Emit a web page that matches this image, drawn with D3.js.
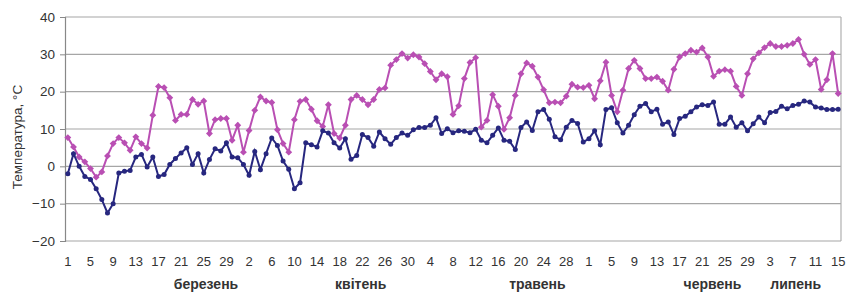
<!DOCTYPE html>
<html>
<head>
<meta charset="utf-8">
<script src="https://cdn.jsdelivr.net/npm/d3@7"></script>
<style>
  html, body { margin: 0; padding: 0; background: #fff; }
  svg { display: block; font-family: "Liberation Sans", Arial, sans-serif; }
</style>
</head>
<body>
<svg id="chart" width="847" height="297"></svg>
<script>
// Day-of-month labels for each of the 137 days (1 March – 15 July)
const monthNames = ["березень", "квітень", "травень", "червень", "липень"];
const monthLengths = [31, 30, 31, 30, 15];
// Category index (fractional) under which each month name is printed
const monthLabelAnchor = [24.4, 51.7, 82.9, 113.8, 128.5];

const yTicks = [-20, -10, 0, 10, 20, 30, 40];
const yTitle = "Температура, °С";

// Maximum temperature (magenta)
const tMax = [
  7.7, 5.2, 2.5, 1.2, -0.6, -2.9, -1.5, 2.8, 6.1, 7.7,
  6.3, 4.3, 7.9, 6.1, 4.9, 13.7, 21.4, 21.1, 18.4, 12.3,
  13.9, 13.9, 17.9, 16.6, 17.5, 8.8, 12.5, 12.8, 12.8, 7.0,
  11.0, 3.8, 9.6, 15.0, 18.6, 17.5, 17.1, 9.8, 6.1, 3.8,
  12.5, 17.4, 17.9, 15.3, 12.2, 10.7, 16.5, 8.8, 7.6, 11.0,
  17.9, 19.0, 17.9, 16.5, 17.9, 20.6, 21.0, 27.1, 28.6, 30.2,
  29.0, 29.9, 29.3, 27.5, 25.4, 23.2, 24.8, 24.0, 13.9, 16.2,
  23.5, 27.8, 29.1, 10.5, 12.3, 19.2, 16.1, 9.9, 13.0, 19.0,
  24.8, 27.7, 26.8, 23.9, 20.5, 17.0, 17.2, 17.0, 18.8, 22.0,
  21.2, 21.1, 21.7, 18.1, 22.9, 27.9, 19.0, 14.6, 20.4, 26.2,
  28.4, 26.2, 23.5, 23.5, 23.9, 22.8, 20.4, 26.0, 29.3, 30.2,
  31.1, 30.6, 31.7, 29.3, 24.1, 25.5, 25.9, 25.5, 21.4, 19.0,
  24.8, 28.8, 30.4, 31.8, 32.9, 32.1, 32.1, 32.4, 32.9, 34.0,
  30.0, 27.3, 28.6, 20.6, 23.2, 30.2, 19.5
];

// Minimum temperature (navy)
const tMin = [
  -2.0, 3.4, 0.0, -2.7, -3.5, -6.0, -8.9, -12.5, -10.0, -1.8,
  -1.3, -1.1, 2.5, 3.2, -0.2, 2.5, -2.7, -2.2, 0.5, 2.1,
  3.6, 5.0, 0.5, 3.4, -1.8, 1.8, 4.7, 4.1, 6.3, 2.5,
  2.3, 0.5, -2.4, 4.0, -0.9, 3.4, 7.6, 5.6, 1.4, -0.8,
  -6.0, -4.4, 6.3, 5.8, 5.2, 9.5, 8.9, 6.3, 4.9, 7.4,
  1.9, 2.9, 8.5, 7.7, 5.4, 9.2, 7.4, 5.9, 7.7, 8.9,
  8.3, 9.8, 10.4, 10.4, 11.0, 13.0, 8.8, 10.1, 9.0, 9.5,
  9.4, 9.0, 9.9, 7.0, 6.3, 8.3, 10.3, 7.0, 6.7, 4.5,
  10.4, 11.9, 9.6, 14.6, 15.2, 12.6, 7.9, 7.1, 10.5, 12.3,
  11.5, 6.5, 7.4, 9.5, 5.8, 15.2, 15.7, 11.7, 8.9, 11.0,
  13.8, 16.1, 16.8, 14.6, 15.3, 11.3, 11.9, 8.5, 12.8, 13.4,
  14.6, 15.9, 16.5, 16.3, 17.2, 11.3, 11.3, 13.2, 10.5, 11.7,
  9.5, 11.4, 13.2, 11.7, 14.4, 14.7, 16.1, 15.4, 16.3, 16.6,
  17.5, 17.2, 15.9, 15.6, 15.2, 15.2, 15.3
];

// Build day labels from month lengths
const dayLabels = [];
monthLengths.forEach(len => { for (let d = 1; d <= len; d++) dayLabels.push(String(d)); });
const idx = d3.range(dayLabels.length);

const svg = d3.select("#chart");
const plotL = 65, plotR = 841, plotT = 17, plotB = 241;

const x = d3.scalePoint().domain(idx).range([plotL, plotR]).padding(0.5);
const y = d3.scaleLinear().domain([-20, 40]).range([plotB, plotT]);
const step = x.step();
const xf = v => plotL + step * (v + 0.5);

// gridlines
svg.append("g").selectAll("line").data(yTicks).join("line")
  .attr("x1", plotL).attr("x2", plotR)
  .attr("y1", d => y(d)).attr("y2", d => y(d))
  .attr("stroke", "#a6a6a6").attr("stroke-width", 1.2);
// right border
svg.append("line").attr("x1", plotR).attr("x2", plotR).attr("y1", plotT).attr("y2", plotB)
  .attr("stroke", "#b0b0b0").attr("stroke-width", 1.2);

// y axis
const yAxis = svg.append("g").attr("transform", `translate(${plotL},0)`)
  .call(d3.axisLeft(y).tickValues(yTicks).tickSize(5).tickPadding(5).tickFormat(d3.format("d")));
yAxis.select(".domain").attr("stroke", "#888").attr("stroke-width", 1.2);
yAxis.selectAll(".tick line").attr("stroke", "#888");
yAxis.selectAll(".tick text").attr("font-size", 13.5).attr("fill", "#333")
  .attr("font-family", "Liberation Sans, Arial, sans-serif");

// y title
svg.append("text")
  .attr("transform", `translate(22,${(plotT + plotB) / 2 + 8}) rotate(-90)`)
  .attr("text-anchor", "middle").attr("font-size", 13.5).attr("fill", "#333")
  .text(yTitle);

// x tick labels (every 4th day)
svg.append("g").selectAll("text").data(idx.filter(i => i % 4 === 0)).join("text")
  .attr("x", d => x(d)).attr("y", 266)
  .attr("text-anchor", "middle").attr("font-size", 13).attr("fill", "#333")
  .text(d => dayLabels[d]);

// month labels
svg.append("g").selectAll("text").data(monthNames).join("text")
  .attr("x", (d, i) => xf(monthLabelAnchor[i])).attr("y", 289)
  .attr("text-anchor", "middle").attr("font-size", 14).attr("font-weight", "bold").attr("fill", "#333")
  .text(d => d);

// lines
const line = d3.line().x((d, i) => x(i)).y(d => y(d));
const magenta = "#b94fb3", navy = "#27277f";

svg.append("path").datum(tMax).attr("d", line)
  .attr("fill", "none").attr("stroke", magenta).attr("stroke-width", 2);
svg.append("g").selectAll("path").data(tMax).join("path")
  .attr("d", d3.symbol(d3.symbolDiamond2 || d3.symbolDiamond, 30))
  .attr("transform", (d, i) => `translate(${x(i)},${y(d)})`)
  .attr("fill", magenta);

svg.append("path").datum(tMin).attr("d", line)
  .attr("fill", "none").attr("stroke", navy).attr("stroke-width", 2);
svg.append("g").selectAll("circle").data(tMin).join("circle")
  .attr("cx", (d, i) => x(i)).attr("cy", d => y(d)).attr("r", 2.5)
  .attr("fill", navy);
</script>
</body>
</html>
